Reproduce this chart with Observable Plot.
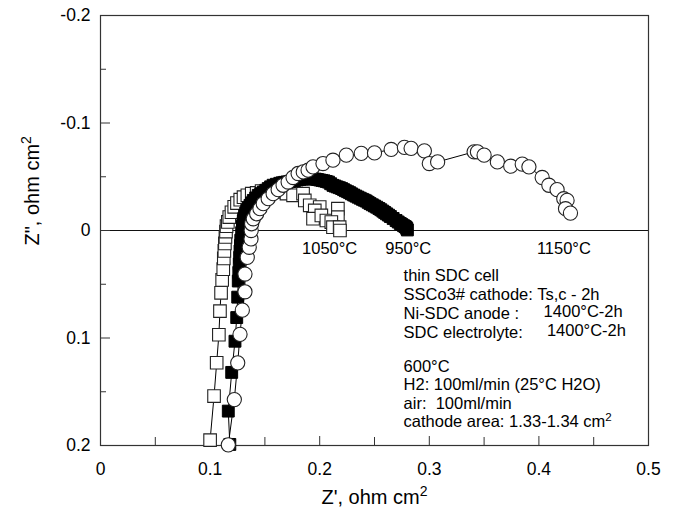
<!DOCTYPE html>
<html>
<head>
<meta charset="utf-8">
<script src="https://cdn.jsdelivr.net/npm/d3@7"></script>
<script src="https://cdn.jsdelivr.net/npm/@observablehq/plot@0.6"></script>
<style>
  body { margin: 0; background: #fff; }
  svg { font-family: "Liberation Sans", Arial, sans-serif; }
  svg text { white-space: pre; }
</style>
</head>
<body>
<div id="chart"></div>
<script>
// ---- Data (Z', Z'' in ohm cm2) ----
const seriesNames = ["1050°C", "950°C", "1150°C"];

// 1050°C : open squares
const zre1050 = [0.100,0.1036,0.106,0.108,0.109,0.110,0.111,0.112,0.1125,0.113,0.1135,0.114,0.1145,0.115,0.1162,0.1175,0.1195,0.122,0.1245,0.1275,0.1305,0.134,0.138,0.1425,0.147,0.155,0.162,0.1697,0.1757,0.1848,0.1864,0.1909,0.200,0.1955,0.1939,0.2015,0.2061,0.2166,0.2166,0.2106,0.2121,0.2182,0.2185];
const zim1050 = [0.195,0.154,0.123,0.097,0.075,0.058,0.046,0.036,0.026,0.019,0.012,0.006,0.001,-0.004,-0.008,-0.0125,-0.017,-0.022,-0.0255,-0.0287,-0.031,-0.0327,-0.0343,-0.035,-0.0367,-0.037,-0.036,-0.0343,-0.0327,-0.0343,-0.028,-0.0234,-0.0218,-0.0187,-0.011,-0.014,-0.0093,-0.0203,-0.0124,-0.0078,-0.0031,-0.0031,0.0];

// 950°C : filled squares (dense band)
const zre950 = [0.118,0.1166,0.1197,0.1227,0.1243,0.1252,0.1257,0.1262,0.1266,0.127,0.1273,0.1277,0.128,0.1288,
  0.1295,0.1300,0.1303,0.1309,0.1315,0.1325,0.1334,0.1349,0.1364,0.1379,0.1394,0.1416,0.1439,0.1462,0.1485,0.1508,0.153,0.1552,0.1575,0.1605,0.1636,0.1658,0.168,0.1703,0.1727,0.1748,0.177,0.1795,0.182,0.1845,0.187,0.189,0.191,0.1935,0.196,0.198,0.200,0.202,0.204,0.206,0.208,0.210,0.2121,0.214,0.216,0.218,0.220,0.2218,0.2235,0.2255,0.2273,0.229,0.231,0.233,0.235,0.237,0.239,0.2407,0.2424,0.2442,0.246,0.248,0.250,0.252,0.254,0.2558,0.2576,0.2593,0.261,0.2628,0.2645,0.267,0.2697,0.2716,0.2735,0.275,0.2765,0.2778,0.2788,0.2795,0.280];
const zim950 = [0.199,0.168,0.132,0.103,0.081,0.062,0.047,0.039,0.031,0.025,0.019,0.014,0.009,0.002,
  -0.004,-0.0065,-0.009,-0.0115,-0.014,-0.0163,-0.0187,-0.021,-0.0234,-0.0257,-0.028,-0.0303,-0.0327,-0.0343,-0.0358,-0.0374,-0.039,-0.0406,-0.0421,-0.043,-0.0439,-0.0444,-0.0448,-0.0452,-0.0455,-0.046,-0.0465,-0.047,-0.0475,-0.0478,-0.048,-0.0482,-0.0483,-0.0481,-0.0478,-0.0474,-0.047,-0.0466,-0.0462,-0.0456,-0.045,-0.0435,-0.042,-0.0413,-0.0405,-0.0398,-0.039,-0.038,-0.037,-0.0361,-0.0352,-0.0341,-0.033,-0.032,-0.031,-0.030,-0.029,-0.0282,-0.0274,-0.0262,-0.025,-0.0239,-0.0228,-0.0217,-0.0205,-0.0193,-0.018,-0.0168,-0.0155,-0.0143,-0.013,-0.0112,-0.0093,-0.0079,-0.0065,-0.0055,-0.0045,-0.0037,-0.003,-0.0018,-0.0005];

// 1150°C : open circles
const zre1150 = [0.1166,0.1221,0.1252,0.1273,0.1294,0.1318,0.1318,0.1339,0.1357,0.1373,0.1375,0.1379,0.1394,0.1425,0.1455,0.1485,0.153,0.1575,0.1621,0.1666,0.1712,0.1757,0.1803,0.185,0.1894,0.1939,0.203,0.2121,0.2243,0.2379,0.250,0.2652,0.2773,0.2834,0.2955,0.300,0.3076,0.3409,0.3439,0.350,0.3621,0.3743,0.3848,0.3909,0.403,0.4091,0.4166,0.4227,0.4257,0.4243,0.4288];
const zim1150 = [0.1994,0.1573,0.1231,0.0966,0.0741,0.057,0.0405,0.025,0.0156,0.0078,0.0,-0.0063,-0.0109,-0.0156,-0.0203,-0.025,-0.0296,-0.0343,-0.038,-0.0421,-0.0451,-0.0493,-0.053,-0.0545,-0.0561,-0.0592,-0.0623,-0.0654,-0.0701,-0.0717,-0.0722,-0.0754,-0.0773,-0.0764,-0.0741,-0.0623,-0.0638,-0.0732,-0.0732,-0.0701,-0.0638,-0.0598,-0.0617,-0.0592,-0.0493,-0.0421,-0.038,-0.0296,-0.028,-0.0203,-0.0162];

// Axis ticks
const xMajorTicks = [0, 0.1, 0.2, 0.3, 0.4, 0.5];
const xTickLabels = ["0", "0.1", "0.2", "0.3", "0.4", "0.5"];
const xMinorTicks = [0.05, 0.15, 0.25, 0.35, 0.45];
const yMajorTicks = [-0.2, -0.1, 0, 0.1, 0.2];
const yTickLabels = ["-0.2", "-0.1", "0", "0.1", "0.2"];
const yMinorTicks = [-0.15, -0.05, 0.05, 0.15];

// Texts
const xTitle = "Z', ohm cm²";
const yTitle = "Z\", ohm cm²";
const infoBlock1 = ["thin SDC cell", "SSCo3# cathode: Ts,c - 2h", "Ni-SDC anode :", "SDC electrolyte:"];
const infoTemps = ["1400°C-2h", "1400°C-2h"];
const infoBlock2 = ["600°C", "H2: 100ml/min (25°C H2O)", "air:  100ml/min", "cathode area: 1.33-1.34 cm²"];

// ---- Build tables ----
const mk = (xs, ys) => xs.map((x, i) => ({x, y: ys[i]}));
const d1050 = mk(zre1050, zim1050);
const d950 = mk(zre950, zim950);
const d1150 = mk(zre1150, zim1150);

const W = 674, H = 513;
const mL = 100, mR = 26, mT = 15, mB = 68;
const fw = W - mL - mR, fh = H - mT - mB;

const chart = Plot.plot({
  width: W, height: H,
  marginLeft: mL, marginRight: mR, marginTop: mT, marginBottom: mB,
  x: {domain: [0, 0.5]},
  y: {domain: [-0.2, 0.2], reverse: true},
  style: {background: "#fff", color: "#000", fontFamily: "'Liberation Sans', Arial, sans-serif", fontSize: "17.5px"},
  marks: [
    Plot.ruleY([0], {stroke: "#111", strokeWidth: 1.1}),
    // inward ticks
    Plot.ruleX(xMajorTicks.slice(1, -1), {insetTop: fh - 9, stroke: "#333"}),
    Plot.ruleX(xMinorTicks, {insetTop: fh - 8, stroke: "#333"}),
    Plot.ruleY(yMajorTicks.slice(1, -1), {insetRight: fw - 10, stroke: "#333"}),
    Plot.ruleY(yMinorTicks, {insetRight: fw - 6, stroke: "#333"}),
    Plot.axisX(xMajorTicks, {tickSize: 0, tickPadding: 17, tickFormat: (d, i) => xTickLabels[i], label: null, fontSize: 17.5}),
    Plot.axisY(yMajorTicks, {tickSize: 0, tickPadding: 10, tickFormat: (d, i) => yTickLabels[i], label: null, fontSize: 17.5}),
    Plot.frame({stroke: "#333", strokeWidth: 1.2}),
    // 1050 open squares
    Plot.line(d1050, {x: "x", y: "y", stroke: "#000", strokeWidth: 1}),
    Plot.dot(d1050, {x: "x", y: "y", symbol: "square", r: 7.1, fill: "#fff", stroke: "#222", strokeWidth: 1.1}),
    // 950 filled squares
    Plot.line(d950, {x: "x", y: "y", stroke: "#000", strokeWidth: 1}),
    Plot.dot(d950, {x: "x", y: "y", symbol: "square", r: 6.7, fill: "#000", stroke: "#000", strokeWidth: 1}),
    // 1150 open circles
    Plot.line(d1150, {x: "x", y: "y", stroke: "#000", strokeWidth: 1}),
    Plot.dot(d1150, {x: "x", y: "y", r: 7.1, fill: "#fff", stroke: "#222", strokeWidth: 1.1}),
    // series labels
    Plot.text(seriesNames, {x: [0.2091, 0.2808, 0.4228], y: [0.017, 0.017, 0.017], text: d => d, fontSize: 16.5, fill: "#000"}),
    // info text
    Plot.text([infoBlock1.join("\n")], {x: 0.2765, y: 0.0343, text: d => d, textAnchor: "start", lineAnchor: "top", lineHeight: 1.16, fontSize: 16.5, fill: "#000"}),
    Plot.text(infoTemps, {x: [0.4043, 0.4073], y: [0.076, 0.093], text: d => d, textAnchor: "start", fontSize: 16.5, fill: "#000"}),
    Plot.text([infoBlock2.join("\n")], {x: 0.2765, y: 0.1193, text: d => d, textAnchor: "start", lineAnchor: "top", lineHeight: 1.12, fontSize: 16.5, fill: "#000"}),
    // axis titles
    Plot.text([xTitle], {frameAnchor: "bottom", dy: 58, text: d => d, fontSize: 20, fill: "#000"}),
    Plot.text([yTitle], {frameAnchor: "left", dx: -68, dy: 15, rotate: -90, text: d => d, fontSize: 20, fill: "#000"})
  ]
});

// superscripts
chart.querySelectorAll("text, tspan").forEach(el => {
  for (const node of Array.from(el.childNodes)) {
    if (node.nodeType === 3 && node.nodeValue.includes("²")) {
      const parts = node.nodeValue.split("²");
      node.nodeValue = parts[0];
      const sup = document.createElementNS("http://www.w3.org/2000/svg", "tspan");
      sup.setAttribute("baseline-shift", "super");
      sup.setAttribute("font-size", "0.7em");
      sup.textContent = "2";
      el.insertBefore(sup, node.nextSibling);
      if (parts[1]) el.insertBefore(document.createTextNode(parts[1]), sup.nextSibling);
    }
  }
});

document.getElementById("chart").appendChild(chart);
</script>
</body>
</html>
